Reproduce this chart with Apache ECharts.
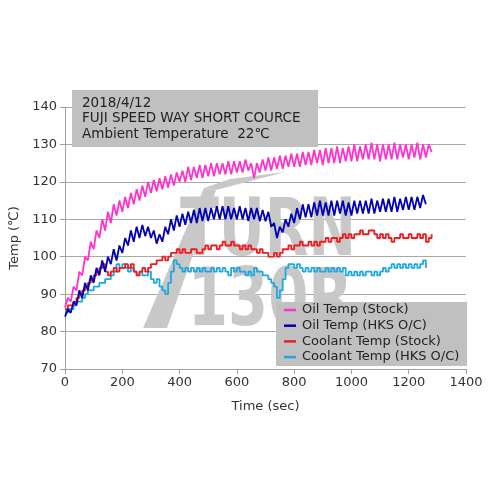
<!DOCTYPE html>
<html>
<head>
<meta charset="utf-8">
<script src="https://cdn.jsdelivr.net/npm/echarts@6/dist/echarts.min.js"></script>
<style>html,body{margin:0;padding:0;background:#fff}#c{width:500px;height:500px}</style>
</head>
<body>
<div id="c"></div>
<script>
// time step 10 s
const timeStep = 10;
const seriesNames = ['Oil Temp (Stock)', 'Oil Temp (HKS O/C)', 'Coolant Temp (Stock)', 'Coolant Temp (HKS O/C)'];
const xTicks = [0, 200, 400, 600, 800, 1000, 1200, 1400];
const yTicks = [70, 80, 90, 100, 110, 120, 130, 140];
const titleLines = ['2018/4/12', 'FUJI SPEED WAY SHORT COURCE', 'Ambient Temperature  22\u2103'];

const oilStock = [86.5,89,88,92,91,96,95,100,99,104,102,107,105,110,107,112,109,114,111,115,
112,116,113,117,114,118,115,119,116,120,117,120.5,117.5,121,118,121.5,118.5,122,119,122.5,
120,123,120,124,120.5,124,121,124.5,121,124.5,121.5,125,121.5,125,122,125,122,125.5,122,125.5,
122.5,125.5,122.5,126,123,125,121,125,122.5,126,123,126.5,123,126.5,123.5,127,123.5,127,124,127.5,
124,127.5,124,128,124.5,128,124.5,128.5,125,128.5,124.5,129,125,129,125,129.5,125,129,125.5,129.5,
125.5,130,125.5,129.5,126,130,126,130.5,126,130,125.5,130,126,130,126,130.5,126,130,126.5,130,
126,130,126.5,130.5,126,130,126.5,130,128];

const oilHKS = [84,86,85,88,87,91,89,93,91,95,93,97,95,99,96,100,98,102,99,103,
101,105,103,107,104,108,105,108.5,105.5,108,105,107,103.5,106,104,108,106,110,107,111,
108,111.5,108.5,112,109,112.5,109,113,109.5,113,109.5,113,110,113.5,110,113.5,110,113.5,110,113,
110,113.5,110,113,109.5,113,110,113,109.5,112.5,109.5,112,108,109,105,108,106.5,110,108,111.5,
109,113,110,114,110.5,114,110.5,114.5,111,115,111,114.5,111,115,111,115,111.5,115,111,114.5,
111,115,111.5,115,111.5,115,111.5,115.5,111.5,115,112,115.5,112,115.5,112,116,112,115.5,112.5,116,
112.5,116,112.5,116,113,116.5,114];

const coolStock = [86,87,87,88,89,90,91,92,93,94,95,96,97,98,96,95,96,97,96,97,
97,98,97,98,96,95,96,97,96,97,98,98,99,99,100,99,100,101,101,102,
101,102,101,101,102,102,101,101,102,103,102,103,103,102,103,104,103,103,104,103,
103,102,103,102,103,102,102,101,102,101,101,100,100,101,100,101,102,102,103,102,
103,103,104,103,103,104,103,104,103,104,104,105,104,105,105,104,105,106,105,106,
105,106,106,107,106,106,107,107,106,105,106,105,106,105,104,105,105,106,105,105,
106,105,105,106,105,106,104,105,106];

const coolHKS = [85,86,86,87,88,88,89,90,91,91,92,92,93,93,94,94,95,96,98,97,
98,97,96,97,96,95,96,95,95,96,94,93,94,92,91,90,93,96,99,98,
97,96,97,96,97,96,97,96,97,96,96,97,96,97,96,97,96,95,97,96,
97,96,96,95,96,95,97,96,96,95,95,94,93,92,89,91,94,97,98,98,
97,98,97,96,97,96,97,96,97,96,96,97,96,97,96,97,96,97,95,96,
95,96,95,96,95,96,96,95,96,95,96,97,96,97,98,97,98,97,98,97,
98,97,98,97,98,99,97];

const colors = ['#ff33cc', '#0000b4', '#ee1c1c', '#1ea8e0'];
const allValues = [oilStock, oilHKS, coolStock, coolHKS];

function pairs(vals) { return vals.map((v, i) => [i * timeStep, v]); }

const FONT = '"DejaVu Sans", Verdana, sans-serif';
const chart = echarts.init(document.getElementById('c'), null, {renderer: 'canvas'});

const series = allValues.map((vals, i) => ({
  name: seriesNames[i],
  type: 'line',
  data: pairs(vals),
  showSymbol: false,
  symbol: 'none',
  step: i >= 2 ? 'end' : false,
  lineStyle: {color: colors[i], width: 1.8},
  itemStyle: {color: colors[i]},
  z: 5 - i,
  animation: false
}));

const wm = '#c8c8c8';
chart.setOption({
  animation: false,
  backgroundColor: '#fff',
  grid: {left: 65, right: 34, top: 107, bottom: 131, containLabel: false},
  xAxis: {
    type: 'value', min: xTicks[0], max: xTicks[xTicks.length - 1], interval: 200,
    name: 'Time (sec)', nameLocation: 'middle', nameGap: 31,
    nameTextStyle: {fontFamily: FONT, fontSize: 13, color: '#333'},
    axisLine: {show: true, lineStyle: {color: '#a0a0a0', width: 1}},
    axisTick: {show: true, length: 5, lineStyle: {color: '#a0a0a0'}},
    axisLabel: {fontFamily: FONT, fontSize: 13, color: '#333', margin: 7, formatter: v => String(v)},
    splitLine: {show: false}
  },
  yAxis: {
    type: 'value', min: yTicks[0], max: yTicks[yTicks.length - 1], interval: 10,
    name: 'Temp (\u2103)', nameLocation: 'middle', nameGap: 42, nameRotate: 90,
    nameTextStyle: {fontFamily: FONT, fontSize: 13, color: '#333'},
    axisLine: {show: true, lineStyle: {color: '#a0a0a0', width: 1}},
    axisTick: {show: true, length: 5, lineStyle: {color: '#a0a0a0'}},
    axisLabel: {fontFamily: FONT, fontSize: 13, color: '#333', margin: 8, formatter: v => String(v)},
    splitLine: {show: true, lineStyle: {color: '#a8a8a8', width: 1}}
  },
  legend: {
    data: seriesNames, orient: 'vertical', left: 284, top: 303, padding: 0,
    itemGap: 1.7, itemWidth: 12, itemHeight: 2.5, icon: 'rect',
    textStyle: {fontFamily: FONT, fontSize: 13, color: '#222', lineHeight: 14, padding: [0, 0, 0, 1]},
    z: 20
  },
  graphic: [
    // watermark
    {type: 'polygon', shape: {points: [[143, 328], [167, 328], [216, 190], [204, 188]]}, style: {fill: wm}, z: 1, silent: true},
    {type: 'polygon', shape: {points: [[204, 188], [230, 179], [285, 172], [216, 190]]}, style: {fill: wm}, z: 1, silent: true},
    {type: 'text', x: 180, y: 234, scaleX: 0.71, style: {text: 'TURN', x: 0, y: 0, font: 'bold 80px "DejaVu Sans"', fill: wm, textVerticalAlign: 'middle'}, z: 1, silent: true},
    {type: 'text', x: 188, y: 304, scaleX: 0.72, style: {text: '130R', x: 0, y: 0, font: 'bold 80px "DejaVu Sans"', fill: wm, textVerticalAlign: 'middle'}, z: 1, silent: true},
    // title box
    {type: 'rect', shape: {x: 72, y: 90, width: 246, height: 57}, style: {fill: '#c0c0c0'}, z: 10, silent: true},
    {type: 'text', x: 82, y: 103, style: {text: titleLines[0], font: '13.5px "DejaVu Sans"', fill: '#222', textVerticalAlign: 'middle'}, z: 11, silent: true},
    {type: 'text', x: 82, y: 118.5, style: {text: titleLines[1], font: '13.5px "DejaVu Sans"', fill: '#222', textVerticalAlign: 'middle'}, z: 11, silent: true},
    {type: 'text', x: 82, y: 134, style: {text: titleLines[2], font: '13.5px "DejaVu Sans"', fill: '#222', textVerticalAlign: 'middle'}, z: 11, silent: true},
    // legend box
    {type: 'rect', shape: {x: 276, y: 302, width: 191, height: 64}, style: {fill: '#c0c0c0'}, z: 10, silent: true}
  ],
  series: series
});
</script>
</body>
</html>
